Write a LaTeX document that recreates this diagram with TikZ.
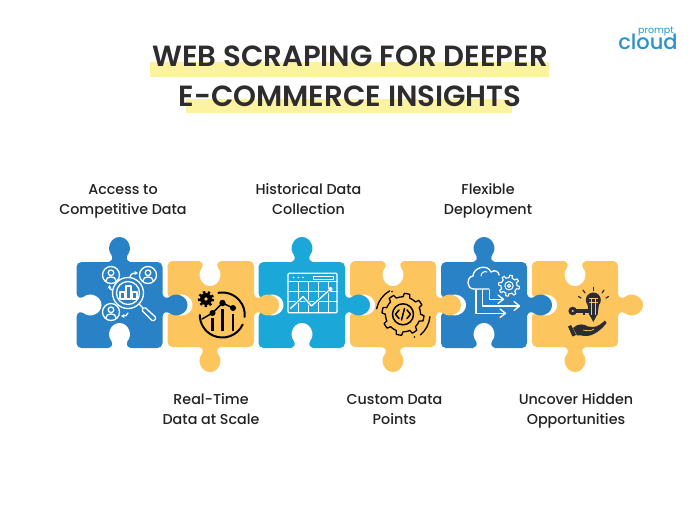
\documentclass[tikz,border=0pt]{standalone}
\usepackage{fontspec}
\setmainfont{Poppins}
\newfontfamily\popsb{Poppins SemiBold}
\newfontfamily\popm{Poppins Medium}
\usetikzlibrary{arrows.meta}
\definecolor{pblue}{HTML}{2A82C6}
\definecolor{pyel}{HTML}{FDC55E}
\definecolor{pcyan}{HTML}{1BA7D8}
\definecolor{hl}{HTML}{FCF3A1}
\definecolor{ink}{HTML}{2E2C2C}
\definecolor{lab}{HTML}{222222}
\definecolor{dk}{HTML}{2B2B33}
\definecolor{logoblue}{HTML}{2A93CC}
\tikzset{
  body/.style={rounded corners=5pt},
  title/.style={font=\popsb\fontsize{29.2}{29.2}\selectfont,text=ink,anchor=base,inner sep=0pt},
  lbl/.style={font=\popm\fontsize{14.3}{20}\selectfont,text=lab,align=center,inner sep=0pt,anchor=base},
  wl/.style={draw=white,line width=1.3pt,line cap=round,line join=round},
  bl/.style={draw=black,line width=1.5pt,line cap=round,line join=round},
}
\newcommand{\tabshape}[4]{\fill[#4,shift={(#1,#2)},rotate=#3]
 (-11,1) -- (-11,0) .. controls (-7,-1) and (-6.5,-4) .. (-8,-7)
 .. controls (-13.5,-13) and (-9,-25) .. (0,-25)
 .. controls (9,-25) and (13.5,-13) .. (8,-7)
 .. controls (6.5,-4) and (7,-1) .. (11,0) -- (11,1) -- cycle;}
\newcommand{\arcat}[6][]{\draw[#2,shift={(#3)},y=1pt,#1] (#4:#6) arc (#4:#5:#6);}
\newcommand{\person}[2]{%
 \draw[wl] (#1,#2) circle (8.5);
 \draw[wl] (#1,#2-2.2) circle (2.8);
 \draw[wl] (#1-5.2,#2+6) .. controls (#1-5.2,#2+0.5) and (#1+5.2,#2+0.5) .. (#1+5.2,#2+6);}
\newcommand{\gearline}[6]{%
 \draw[#6,shift={(#1,#2)}] plot[domain=0:360,samples=#5*12+1,smooth cycle,tension=0.05]
  ({(#3+(#4-#3)*(sin(#5*\x)>0))*cos(\x)},{(#3+(#4-#3)*(sin(#5*\x)>0))*sin(\x)});}
\begin{document}
\begin{tikzpicture}[x=1pt,y=-1pt]
\useasboundingbox (0,0) rectangle (700,525);
\fill[white] (0,0) rectangle (700,525);
% title
\fill[hl] (150,61.7) rectangle (549,76.7);
\fill[hl] (186,98.5) rectangle (512,113.3);
\node[title] (t1) at (350,66) {WEB SCRAPING FOR DEEPER};
\node[title] (t2) at (350,106) {E-COMMERCE INSIGHTS};
% logo
\node[font=\popm\fontsize{21}{21}\selectfont,text=logoblue,anchor=base,inner sep=0pt] (logoA) at (648,49) {cloud};
\node[font=\fontsize{9.5}{10}\selectfont,text=logoblue,anchor=base,inner sep=0pt] (logoB) at (656,33) {prompt};
% bodies
\fill[pblue,body] (76.5,262) rectangle (162.5,348);
\fill[pyel,body]  (167.5,261) rectangle (254,347);
\fill[pcyan,body] (258.5,262) rectangle (345,348);
\fill[pyel,body]  (350,261) rectangle (436,347);
\fill[pblue,body] (441,262) rectangle (527,348);
\fill[pyel,body]  (532,261) rectangle (618,347);
% notches
\foreach \x in {119.5,302,484}{\tabshape{\x}{348}{0}{white}}
\foreach \x in {210,393,575}{\tabshape{\x}{261}{180}{white}}
\foreach \x in {76.5,167.5,258.5,350,441,532}{\tabshape{\x}{305}{-90}{white}}
% knobs
\tabshape{119.5}{262}{0}{pblue}
\tabshape{302}{262}{0}{pcyan}
\tabshape{484}{262}{0}{pblue}
\tabshape{210}{347}{180}{pyel}
\tabshape{393}{347}{180}{pyel}
\tabshape{575}{347}{180}{pyel}
\tabshape{162.5}{305}{-90}{pblue}
\tabshape{254}{305}{-90}{pyel}
\tabshape{345}{305}{-90}{pcyan}
\tabshape{436}{305}{-90}{pyel}
\tabshape{527}{305}{-90}{pblue}
\tabshape{618}{305}{-90}{pyel}
% icon 1
\person{111}{275}\person{148}{275}\person{111}{312}
\draw[wl] (128,293) circle (15.5);
\draw[wl] (128,293) circle (11.5);
\draw[wl] (120,299) rectangle (125,292);
\draw[wl] (126,299) rectangle (131,286);
\draw[wl] (132,299) rectangle (137,292);
\draw[wl] (139,304) -- (142.5,307.5);
\draw[wl,rounded corners=1.5pt] (141.5,310) -- (144.5,307) -- (156.5,318) -- (153,321.5) -- cycle;
\draw[wl,-{Stealth[length=3.5pt,width=4pt]}] (130,277) .. controls (131,273) and (134,273) .. (138,273);
\draw[wl,-{Stealth[length=3.5pt,width=4pt]}] (112,290) .. controls (110,290) and (109.5,288) .. (109.5,285);
\draw[wl,-{Stealth[length=3.5pt,width=4pt]}] (128,313) .. controls (127,316) and (125,316) .. (121,316);
% icon 2
\arcat[line width=2pt]{bl}{222.3,315}{100}{-5}{22.5}
\arcat[line width=2pt]{bl}{222.3,315}{-25}{-180}{22.5}
\draw[bl,line width=2.4pt,line cap=butt] (212.5,331) -- (212.5,318);
\draw[bl,line width=2.4pt,line cap=butt] (222.5,331) -- (222.5,309);
\draw[bl,line width=2.4pt,line cap=butt] (233,331) -- (233,314);
\draw[bl,line width=1.5pt] (202,319) -- (212.5,313) -- (222.5,303) -- (233,308);
\fill (212.5,313) circle (3);\fill (222.5,303) circle (3.2);\fill (233,308) circle (3);
\fill (206,299) circle (6);
\draw[line width=2.6pt,dash pattern=on 2.4pt off 2.4pt] (206,299) circle (6.8);
\fill[pyel] (206,299) circle (1.8);
% icon 3
\draw[wl,rounded corners=1pt] (288,273.3) rectangle (337,312.7);
\draw[wl] (288,281.7) -- (337,281.7);
\draw[wl] (288,291.7) -- (337,291.7);
\draw[wl] (288,301.7) -- (337,301.7);
\foreach \x in {298.3,308.3,318.3,328.3}{\draw[wl] (\x,281.7) -- (\x,312.7);}
\foreach \x in {293.5,298.5,303}{\fill[white] (\x,277.5) circle (0.9);}
\draw[wl,line width=0.9pt] (313,276.3) rectangle (333.5,279);
\draw[pcyan,line width=3pt,line cap=round,line join=round] (290.5,308.5) -- (303,296.5) -- (311.5,306) -- (330,289.5);
\draw[wl,line width=1.3pt] (290.5,308.5) -- (303,296.5) -- (311.5,306) -- (330,289.5);
\fill[white] (330.5,289) circle (2);
% icon 4
\gearline{403}{314.3}{17.5}{21}{8}{bl,line width=1.3pt}
\draw[bl] (403,314.3) circle (10.5);
\draw[bl] (399,310) -- (395.5,314.3) -- (399,318.5);
\draw[bl] (407,310) -- (410.5,314.3) -- (407,318.5);
\draw[bl] (404.5,308.5) -- (401.5,320);
\arcat[line width=1.3pt]{bl}{403,314.3}{120}{168}{27}
\arcat[line width=1.3pt]{bl}{403,314.3}{-50}{-5}{27}
\fill (392,291.5) circle (0.8);
\fill (414.5,337) circle (0.8);
% icon 5
\draw[wl] (489,289) -- (474,289) .. controls (466,289) and (466,277) .. (473,276)
 .. controls (473,268) and (487,263) .. (491,272) .. controls (495,269) and (499,272) .. (499,275);
\draw[wl,line width=1pt] (481,276) .. controls (481,272) and (485,271) .. (487,272);
\gearline{509}{285.7}{8}{10.5}{8}{wl,line width=1.1pt}
\draw[wl,line width=1pt] (509,285.7) circle (4.2);
\draw[wl,line width=1pt] (509,285.7) circle (1.6);
\draw[wl] (489.3,290) -- (489.3,299.3) -- (503,299.3);
\draw[wl] (498,295) -- (503.5,299.3) -- (498,303.5);
\draw[wl] (482.7,290) -- (482.7,306) -- (519,306);
\draw[wl] (514,301.5) -- (519.5,306) -- (514,310.5);
\draw[wl] (476,290) -- (476,313.3) -- (505,313.3);
\draw[wl] (500,309) -- (505.5,313.3) -- (500,317.5);
% icon 6
\fill[dk] (593.3,300) circle (7.5);
\fill[dk] (587.5,304) -- (599,304) -- (597.5,315) -- (589,315) -- cycle;
\fill[dk] (589,314) -- (597.5,314) -- (593.3,322) -- cycle;
\draw[pyel,line width=0.9pt] (591,299) -- (591,315);
\draw[pyel,line width=0.9pt] (595.7,299) -- (595.7,315);
\draw[pyel,line width=0.9pt] (589,298.5) -- (597.7,298.5) (589,302) -- (597.7,302);
\draw[dk,line width=1.2pt,line cap=round] (593.3,290.5) -- (593.3,287.5);
\draw[dk,line width=1.2pt,line cap=round] (585,293) -- (583,290);
\draw[dk,line width=1.2pt,line cap=round] (602,293) -- (604,290);
\draw[dk,line width=1.2pt,line cap=round] (581,298) -- (578.5,296.5);
\draw[dk,line width=1.2pt,line cap=round] (606,298) -- (608.5,296.5);
\fill[dk,even odd rule] (572.7,311) circle (4.3) (572.7,311) circle (1.4);
\fill[dk] (576,309.3) rectangle (590,312.5);
\fill[dk] (582.5,312) rectangle (585,315);
\fill[dk] (568,326.5) -- (571,325) -- (576,335) -- (572.5,336.5) -- cycle;
\fill[dk] (573,328) .. controls (578,323) and (584,324) .. (588,326.5) -- (593,327)
 .. controls (598,327) and (602,323) .. (605,320.5) -- (606.5,323) .. controls (602,329) and (594,336) .. (586,336)
 .. controls (582,336) and (579,334.5) .. (577,335.5) -- cycle;
\draw[pyel,line width=0.7pt] (583,330) .. controls (587,331) and (592,331) .. (594,329);
% labels
\node[lbl] (a) at (123,214.3) {Access to\\Competitive Data};
\node[lbl] (b) at (308.5,214.3) {Historical Data\\Collection};
\node[lbl] (c) at (488,214.3) {Flexible\\Deployment};
\node[lbl] (d) at (211,424.5) {Real-Time\\Data at Scale};
\node[lbl] (e) at (394.5,424.5) {Custom Data\\Points};
\node[lbl] (f) at (576,424.5) {Uncover Hidden\\Opportunities};
\end{tikzpicture}
\end{document}
